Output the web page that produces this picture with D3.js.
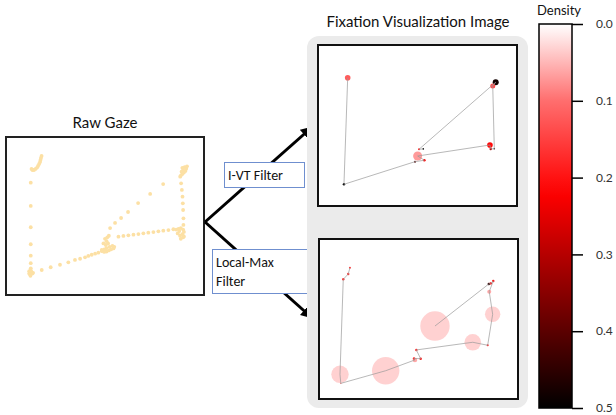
<!DOCTYPE html>
<html>
<head>
<meta charset="utf-8">
<script src="https://cdn.jsdelivr.net/npm/d3@7"></script>
<style>
  html, body { margin: 0; padding: 0; background: #fff; }
  svg { display: block; }
  text { font-family: Lato, "Open Sans", sans-serif; }
</style>
</head>
<body>
<svg id="chart" width="616" height="415"></svg>
<script>
// ---- Data (screen coordinates, 1280 x 1024 px) ----
const screenSize = [1280, 1024];

// Raw gaze samples
const rawGazeX = [
  230,226,223,220,214,207,201,191,181,171,165,
  160,160,160,160,160,160,160,
  150,160,155,165,170,150,160,175,158,
  231,289,349,403,446,479,511,532,554,576,597,619,
  620,635,650,665,680,695,700,688,670,650,635,645,660,650,640,655,665,630,
  673,705,744,789,854,932,1016,
  1140,1155,1165,1160,1150,1140,1135,1145,1130,1170,
  1126,1132,1137,1141,1143,1145,1147,1147,
  1100,1115,1130,1145,1150,1140,1125,1110,1145,1130,1150,1120,
  1082,1050,1017,985,953,920,888,856,824,791,759,727
];
const rawGazeY = [
  123,136,149,162,175,188,198,207,214,214,207,
  296,447,585,695,769,818,851,
  870,880,890,875,885,885,865,880,900,
  862,844,828,812,797,789,780,771,763,756,750,732,
  740,745,742,735,728,722,712,705,712,720,728,700,690,675,660,650,640,690,
  590,557,525,486,428,369,305,
  200,195,205,220,230,240,225,215,250,190,
  257,300,343,387,430,473,527,570,
  600,595,590,600,615,630,640,625,650,660,645,610,
  598,603,607,611,616,620,624,629,633,637,641,646
];

// I-VT filter fixations (scan-path order)
const ivtX        = [191, 167, 624, 684, 641, 1106, 1111, 1134, 1124, 1143, 650, 677];
const ivtY        = [208, 886, 742, 733, 706,  636,  661,  660,  261,  237, 663, 661];
const ivtDuration = [ 70,  13,   9,  15, 180,   70,   13,    6,   56,   80,   9,   6];
const ivtDensity  = [0.12, 0.5, 0.42, 0.22, 0.07, 0.21, 0.3, 0.47, 0.14, 0.48, 0.2, 0.5];

// Local-Max filter fixations (scan-path order)
const lmX        = [199, 188, 156, 135, 140, 429, 617, 611, 654, 626, 989, 1085, 1117, 1095, 1121, 1104, 1092, 746];
const lmY        = [184, 224, 258, 866, 924, 843, 774, 764, 766, 710, 661,  680,  482,  337,  269,  284,  288, 557];
const lmDuration = [  9,  13,  13, 673,   1, 1668, 47,  13,  13,  13, 612,   9,   527,   36,   13,   13,   13, 1921];
const lmDensity  = [0.16, 0.16, 0.17, 0.04, 0.1, 0.04, 0.06, 0.18, 0.2, 0.18, 0.04, 0.18, 0.04, 0.06, 0.2, 0.22, 0.45, 0.04];

// Colour bar
const densityTicks = [0, 0.1, 0.2, 0.3, 0.4, 0.5];

// ---- Drawing ----
const svg = d3.select("#chart");

// density -> colour: white through red to black
const densityColor = d3.scaleLinear()
  .domain([0, 0.1, 0.22, 0.5])
  .range(["#ffffff", "#ff6e6e", "#ff0000", "#000000"])
  .interpolate(d3.interpolateRgb)
  .clamp(true);

const rScale = d3.scaleSqrt().domain([0, 2000]).range([0, 15]);

function panelScales(x, y, w, h) {
  return {
    x: d3.scaleLinear().domain([0, screenSize[0]]).range([x, x + w]),
    y: d3.scaleLinear().domain([0, screenSize[1]]).range([y, y + h])
  };
}

// Raw gaze panel
svg.append("text").attr("x", 105).attr("y", 128).attr("text-anchor", "middle")
  .attr("font-size", 15).attr("fill", "#111").text("Raw Gaze");
svg.append("rect").attr("x", 6).attr("y", 137).attr("width", 198).attr("height", 158)
  .attr("fill", "#fff").attr("stroke", "#222").attr("stroke-width", 2);
const rawS = panelScales(6, 137, 198, 158);
svg.append("g").selectAll("circle").data(d3.range(rawGazeX.length)).join("circle")
  .attr("cx", i => rawS.x(rawGazeX[i]))
  .attr("cy", i => rawS.y(rawGazeY[i]))
  .attr("r", 1.9)
  .attr("fill", "#fce0a4");

// Arrows
const defs = svg.append("defs");
defs.append("marker").attr("id", "arrowhead")
  .attr("viewBox", "0 0 10 10").attr("refX", 8).attr("refY", 5)
  .attr("markerWidth", 4).attr("markerHeight", 4).attr("orient", "auto")
  .append("path").attr("d", "M0,0 L10,5 L0,10 z").attr("fill", "#000");
const arrows = [[[205, 222], [311, 128]], [[205, 222], [311, 317]]];
svg.append("g").selectAll("line").data(arrows).join("line")
  .attr("x1", d => d[0][0]).attr("y1", d => d[0][1])
  .attr("x2", d => d[1][0]).attr("y2", d => d[1][1])
  .attr("stroke", "#000").attr("stroke-width", 3)
  .attr("marker-end", "url(#arrowhead)");

// Filter labels
const labelFont = "Carlito, Lato, 'Liberation Sans', sans-serif";
svg.append("rect").attr("x", 224.5).attr("y", 162.5).attr("width", 80).attr("height", 25)
  .attr("fill", "#fff").attr("stroke", "#6f8fcf").attr("stroke-width", 1);
svg.append("text").attr("x", 228).attr("y", 180).attr("font-size", 14)
  .style("font-family", labelFont).attr("fill", "#111").text("I-VT Filter");
svg.append("rect").attr("x", 212.5).attr("y", 249.5).attr("width", 95).attr("height", 44)
  .attr("fill", "#fff").attr("stroke", "#6f8fcf").attr("stroke-width", 1);
svg.append("text").attr("x", 216).attr("y", 267).attr("font-size", 14)
  .style("font-family", labelFont).attr("fill", "#111").text("Local-Max");
svg.append("text").attr("x", 216).attr("y", 286).attr("font-size", 14)
  .style("font-family", labelFont).attr("fill", "#111").text("Filter");

// Fixation panel background
svg.append("text").attr("x", 418).attr("y", 27).attr("text-anchor", "middle")
  .attr("font-size", 15).attr("fill", "#111").text("Fixation Visualization Image");
svg.append("rect").attr("x", 307).attr("y", 36).attr("width", 221).attr("height", 372)
  .attr("rx", 12).attr("fill", "#ebebeb");

function drawFixations(x, y, w, h, xs, ys, durs, dens) {
  svg.append("rect").attr("x", x).attr("y", y).attr("width", w).attr("height", h)
    .attr("fill", "#fff").attr("stroke", "#111").attr("stroke-width", 2);
  const s = panelScales(x, y, w, h);
  const idx = d3.range(xs.length);
  const g = svg.append("g");
  // fixation circles, largest first
  g.selectAll("circle").data(idx.slice().sort((a, b) => durs[b] - durs[a])).join("circle")
    .attr("cx", i => s.x(xs[i]))
    .attr("cy", i => s.y(ys[i]))
    .attr("r", i => Math.max(0.6, rScale(durs[i])))
    .attr("fill", i => densityColor(dens[i]))
    .attr("fill-opacity", i => rScale(durs[i]) > 5 ? 0.8 : 1);
  // scan path
  const line = d3.line().x(i => s.x(xs[i])).y(i => s.y(ys[i]));
  g.append("path").attr("d", line(idx))
    .attr("fill", "none").attr("stroke", "#9a9a9a").attr("stroke-width", 0.7);
}

drawFixations(318, 45, 199, 161, ivtX, ivtY, ivtDuration, ivtDensity);
drawFixations(319, 239, 199, 160, lmX, lmY, lmDuration, lmDensity);

// Colour bar
const cbX = 539, cbW = 33, cbTop = 24, cbBottom = 408;
const cbScale = d3.scaleLinear().domain([0, 0.5]).range([cbTop, cbBottom]);
const grad = defs.append("linearGradient").attr("id", "densityGrad")
  .attr("x1", 0).attr("y1", 0).attr("x2", 0).attr("y2", 1);
d3.range(0, 1.0001, 0.05).forEach(t => {
  grad.append("stop").attr("offset", t).attr("stop-color", densityColor(t * 0.5));
});
svg.append("text").attr("x", 559).attr("y", 15).attr("text-anchor", "middle")
  .attr("font-size", 13).attr("fill", "#111").text("Density");
svg.append("rect").attr("x", cbX).attr("y", cbTop).attr("width", cbW).attr("height", cbBottom - cbTop)
  .attr("fill", "url(#densityGrad)").attr("stroke", "#000").attr("stroke-width", 1.5);
const axis = d3.axisRight(cbScale).tickValues(densityTicks).tickFormat(d3.format(".1f"))
  .tickSize(11).tickPadding(13);
const ag = svg.append("g").attr("transform", `translate(${cbX + cbW},0)`).call(axis);
ag.select(".domain").remove();
ag.selectAll(".tick line").attr("stroke", "#000").attr("stroke-width", 1.5);
ag.selectAll(".tick text").attr("font-size", 12).attr("fill", "#333")
  .attr("dy", "0.3em")
  .style("font-family", "Lato, 'Open Sans', sans-serif");
</script>
</body>
</html>
